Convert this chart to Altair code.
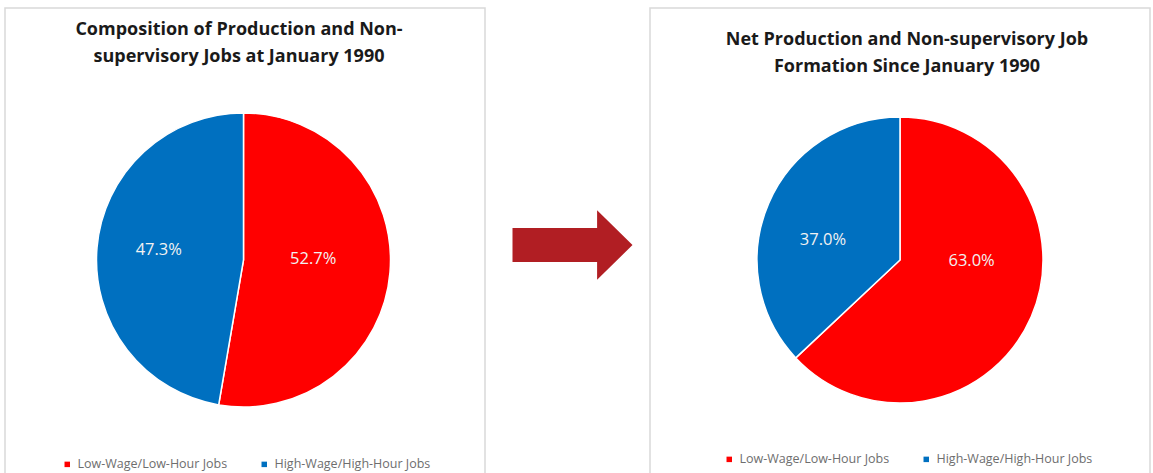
import altair as alt
import pandas as pd

categories = ["Low-Wage/Low-Hour Jobs", "High-Wage/High-Hour Jobs"]
share_1990 = [52.7, 47.3]
share_net = [63.0, 37.0]
labels_1990 = ["52.7%", "47.3%"]
labels_net = ["63.0%", "37.0%"]
colors = ["#FF0000", "#0070C0"]
title_1990 = ["Composition of Production and Non-", "supervisory Jobs at January 1990"]
title_net = ["Net Production and Non-supervisory Job", "Formation Since January 1990"]

W, H = 1153, 473
FONT = "Open Sans"

df1 = pd.DataFrame({"category": categories, "value": share_1990, "label": labels_1990, "idx": [0, 1]})
df2 = pd.DataFrame({"category": categories, "value": share_net, "label": labels_net, "idx": [0, 1]})
one = pd.DataFrame({"a": [0]})


def panel(x0, x1, y0):
    return alt.Chart(one).mark_rect(fill="white", stroke="#D9D9D9", strokeWidth=1.5).encode(
        x=alt.value(x0), x2=alt.value(x1), y=alt.value(y0), y2=alt.value(H + 10)
    )


def pie(df, cx, cy, r, lx, ly):
    return alt.Chart(df).mark_arc(radius=r, stroke="white", strokeWidth=1.5).encode(
        theta=alt.Theta("value:Q", stack=True),
        color=alt.Color(
            "category:N",
            scale=alt.Scale(domain=categories, range=colors),
            legend=alt.Legend(
                orient="none", legendX=lx, legendY=ly, direction="horizontal",
                title=None, symbolType="square", symbolSize=30, symbolStrokeWidth=0,
                labelFont=FONT, labelFontSize=12.5, labelColor="#6E6E6E",
                labelOffset=4, columnPadding=30, padding=0,
            ),
        ),
        order=alt.Order("idx:Q"),
        x=alt.value(cx), y=alt.value(cy),
    )


def pie_label(df, cat, cx, cy, r, dy):
    return alt.Chart(df).transform_stack(
        stack="value", groupby=[], as_=["v0", "v1"], sort=[alt.SortField("idx")]
    ).transform_calculate(
        mid="(datum.v0 + datum.v1) / 2"
    ).transform_filter(alt.datum.category == cat).mark_text(
        radius=r, dy=dy, font=FONT, fontSize=16.5, fill="#F2F2F2", align="center", baseline="middle"
    ).encode(
        theta=alt.Theta("mid:Q", scale=alt.Scale(domain=[0, 100])),
        text="label:N",
        x=alt.value(cx), y=alt.value(cy),
    )


def title(lines, cx, y):
    return alt.Chart(pd.DataFrame({"t": [lines]})).mark_text(
        font=FONT, fontSize=18, fontWeight="bold", color="#1A1A1A",
        align="center", baseline="middle", lineHeight=27,
    ).encode(text="t", x=alt.value(cx), y=alt.value(y))


arrow = alt.Chart(one).mark_point(
    shape="M -1 -0.283 L 0.41 -0.283 L 0.41 -0.58 L 1 0 L 0.41 0.58 L 0.41 0.283 L -1 0.283 Z",
    filled=True, size=14400, fill="#B11E23", opacity=1, strokeWidth=0,
).encode(x=alt.value(572.5), y=alt.value(245))

chart = alt.layer(
    panel(5, 485, 8),
    panel(650, 1150, 8),
    pie(df1, 243.5, 260, 147, 61, 458),
    pie(df2, 900, 260, 143, 723, 453),
    pie_label(df1, categories[0], 243.5, 260, 70, -7),
    pie_label(df1, categories[1], 243.5, 260, 85, -3),
    pie_label(df2, categories[0], 900, 260, 78, -30),
    pie_label(df2, categories[1], 900, 260, 84, 13),
    title(title_1990, 239, 30),
    title(title_net, 907, 40),
    arrow,
).resolve_scale(color="independent", theta="independent").properties(
    width=W, height=H, padding=0, autosize="none", background="white"
).configure_view(stroke=None)

chart.save("out.html", embed_options={"renderer": "svg", "actions": False})
